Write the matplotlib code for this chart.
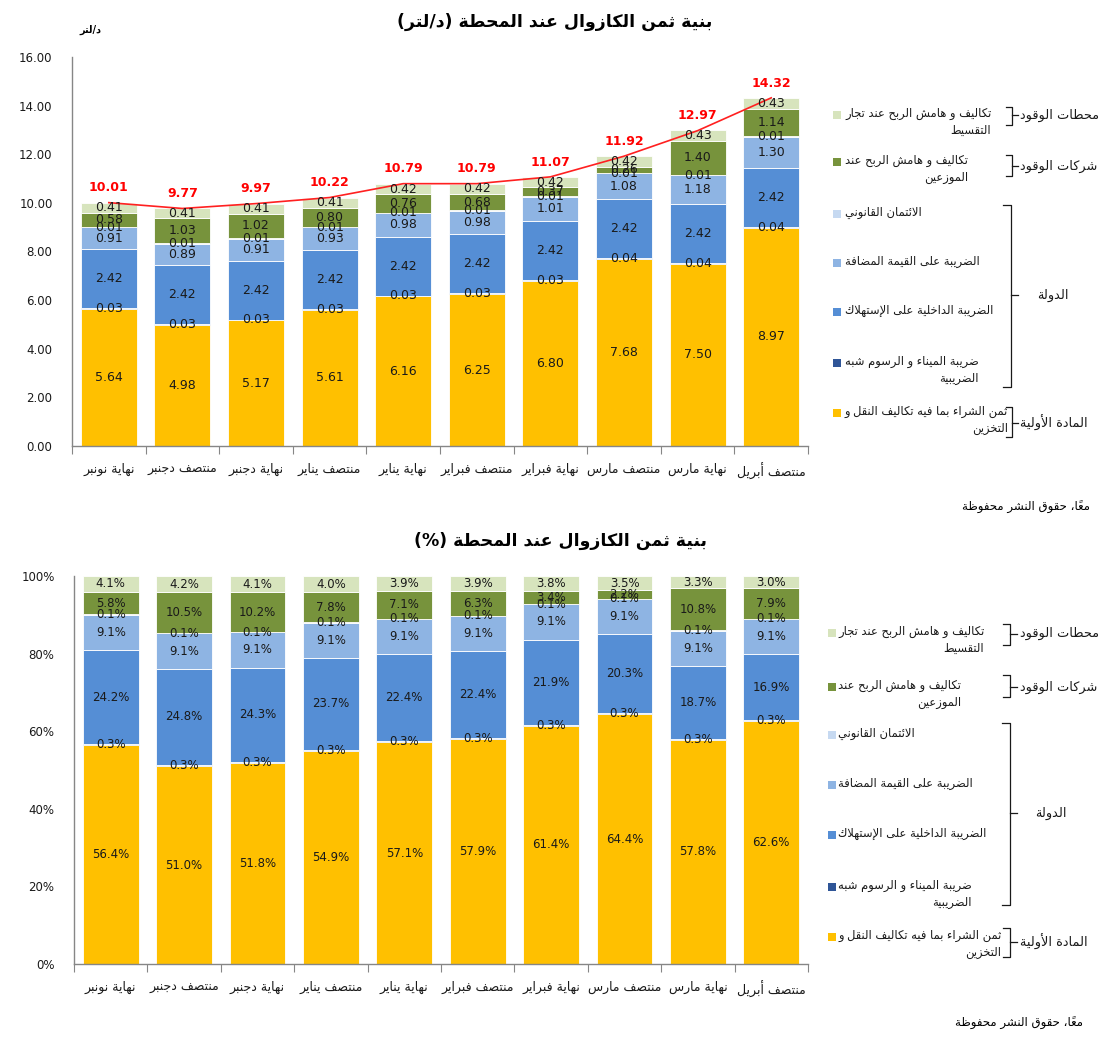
import matplotlib
matplotlib.use('Agg')
import matplotlib.pyplot as plt
from matplotlib.lines import Line2D
from matplotlib.patches import Rectangle
import numpy as np

# ---------------- data ----------------
categories = ['نهاية نونبر', 'منتصف دجنبر', 'نهاية دجنبر', 'منتصف يناير', 'نهاية يناير',
              'منتصف فبراير', 'نهاية فبراير', 'منتصف مارس', 'نهاية مارس', 'منتصف أبريل']

raw_material = [5.64, 4.98, 5.17, 5.61, 6.16, 6.25, 6.80, 7.68, 7.50, 8.97]
port_tax = [0.03, 0.03, 0.03, 0.03, 0.03, 0.03, 0.03, 0.04, 0.04, 0.04]
consumption_tax = [2.42, 2.42, 2.42, 2.42, 2.42, 2.42, 2.42, 2.42, 2.42, 2.42]
vat = [0.91, 0.89, 0.91, 0.93, 0.98, 0.98, 1.01, 1.08, 1.18, 1.30]
legal_credit = [0.01, 0.01, 0.01, 0.01, 0.01, 0.01, 0.01, 0.01, 0.01, 0.01]
distributors = [0.58, 1.03, 1.02, 0.80, 0.76, 0.68, 0.37, 0.26, 1.40, 1.14]
retailers = [0.41, 0.41, 0.41, 0.41, 0.42, 0.42, 0.42, 0.42, 0.43, 0.43]
totals = [10.01, 9.77, 9.97, 10.22, 10.79, 10.79, 11.07, 11.92, 12.97, 14.32]

pct_raw_material = [56.4, 51.0, 51.8, 54.9, 57.1, 57.9, 61.4, 64.4, 57.8, 62.6]
pct_port_tax = [0.3, 0.3, 0.3, 0.3, 0.3, 0.3, 0.3, 0.3, 0.3, 0.3]
pct_consumption_tax = [24.2, 24.8, 24.3, 23.7, 22.4, 22.4, 21.9, 20.3, 18.7, 16.9]
pct_vat = [9.1, 9.1, 9.1, 9.1, 9.1, 9.1, 9.1, 9.1, 9.1, 9.1]
pct_legal_credit = [0.1, 0.1, 0.1, 0.1, 0.1, 0.1, 0.1, 0.1, 0.1, 0.1]
pct_distributors = [5.8, 10.5, 10.2, 7.8, 7.1, 6.3, 3.4, 2.2, 10.8, 7.9]
pct_retailers = [4.1, 4.2, 4.1, 4.0, 3.9, 3.9, 3.8, 3.5, 3.3, 3.0]

top_yticks = [0, 2, 4, 6, 8, 10, 12, 14, 16]
bottom_yticks = [0, 20, 40, 60, 80, 100]

series_labels = ['ثمن الشراء بما فيه تكاليف النقل و\nالتخزين',
                 'ضريبة الميناء و الرسوم شبه\nالضريبية',
                 'الضريبة الداخلية على الإستهلاك',
                 'الضريبة على القيمة المضافة',
                 'الائتمان القانوني',
                 'تكاليف و هامش الربح عند\nالموزعين',
                 'تكاليف و هامش الربح عند تجار\nالتقسيط']
group_labels = ['المادة الأولية', 'الدولة', 'شركات الوقود', 'محطات الوقود']
title_top = 'بنية ثمن الكازوال عند المحطة (د/لتر)'
title_bottom = 'بنية ثمن الكازوال عند المحطة (%)'
unit_label = 'د/لتر'
footnote = 'معاً، حقوق النشر محفوظة'

colors = ['#FFC000', '#2F5597', '#558ED5', '#8EB4E3', '#C6D9F1', '#77933C', '#D7E4BD']

# ---------------- minimal Arabic shaping (presentation forms + visual order) ----------------
BASE = {'ء': 0xFE80, 'آ': 0xFE81, 'أ': 0xFE83, 'ؤ': 0xFE85, 'إ': 0xFE87, 'ئ': 0xFE89,
        'ا': 0xFE8D, 'ب': 0xFE8F, 'ة': 0xFE93, 'ت': 0xFE95, 'ث': 0xFE99, 'ج': 0xFE9D,
        'ح': 0xFEA1, 'خ': 0xFEA5, 'د': 0xFEA9, 'ذ': 0xFEAB, 'ر': 0xFEAD, 'ز': 0xFEAF,
        'س': 0xFEB1, 'ش': 0xFEB5, 'ص': 0xFEB9, 'ض': 0xFEBD, 'ط': 0xFEC1, 'ظ': 0xFEC5,
        'ع': 0xFEC9, 'غ': 0xFECD, 'ف': 0xFED1, 'ق': 0xFED5, 'ك': 0xFED9, 'ل': 0xFEDD,
        'م': 0xFEE1, 'ن': 0xFEE5, 'ه': 0xFEE9, 'و': 0xFEED, 'ى': 0xFEEF, 'ي': 0xFEF1}
DUAL = set('ئبتثجحخسشصضطظعغفقكلمنهي')
RIGHT = set('آأؤإادذرزوةى')
LAMALEF = {'آ': 0xFEF5, 'أ': 0xFEF7, 'إ': 0xFEF9, 'ا': 0xFEFB}
MIRROR = {'(': ')', ')': '('}


def _shape_line(s):
    clusters = []
    for ch in s:
        if 0x064B <= ord(ch) <= 0x065F or ch == '\u0670':
            if clusters:
                clusters[-1][1] += ch
            continue
        clusters.append([ch, ''])
    out = []
    i = 0
    while i < len(clusters):
        c, m = clusters[i]
        if c == 'ل' and i + 1 < len(clusters) and clusters[i + 1][0] in LAMALEF:
            out.append(['LA' + clusters[i + 1][0], m + clusters[i + 1][1]])
            i += 2
        else:
            out.append([c, m])
            i += 1

    def jn(c):
        return c in DUAL

    def jp(c):
        return c in DUAL or c in RIGHT or c.startswith('LA')

    res = []
    for i, (c, m) in enumerate(out):
        prev = out[i - 1][0] if i > 0 else None
        nxt = out[i + 1][0] if i + 1 < len(out) else None
        cp = prev is not None and jn(prev) and jp(c)
        cn = nxt is not None and jn(c) and jp(nxt)
        if c.startswith('LA'):
            g = chr(LAMALEF[c[2]] + (1 if cp else 0))
        elif c in DUAL:
            g = chr(BASE[c] + (3 if (cp and cn) else 1 if cp else 2 if cn else 0))
        elif c in RIGHT:
            g = chr(BASE[c] + (1 if cp else 0))
        elif c in BASE:
            g = chr(BASE[c])
        else:
            g = c
        res.append(g + m)
    return ''.join(MIRROR.get(x, x) for x in reversed(res))


def ar(s):
    return '\n'.join(_shape_line(l) for l in s.split('\n'))


plt.rcParams['font.family'] = ['DejaVu Sans']

W, H = 1107, 1040
fig = plt.figure(figsize=(W / 100, H / 100), dpi=100)


def fx(x):
    return x / W


def fy(y):
    return 1 - y / H


def draw_chart(ax, stacks, fmt, label_size):
    x = np.arange(len(categories))
    bottom = np.zeros(len(categories))
    for vals, col in zip(stacks, colors):
        v = np.array(vals, dtype=float)
        ax.bar(x, v, bottom=bottom, width=0.76, color=col, edgecolor='white', linewidth=0.6, zorder=2)
        for xi, b, vi in zip(x, bottom, v):
            ax.text(xi, b + vi / 2, fmt(vi), ha='center', va='center', fontsize=label_size,
                    color='#1a1a1a', zorder=5)
        bottom = bottom + v
    ax.set_xlim(-0.5, len(categories) - 0.5)
    for s in ['top', 'right']:
        ax.spines[s].set_visible(False)
    for s in ['left', 'bottom']:
        ax.spines[s].set_color('#868686')
        ax.spines[s].set_linewidth(1.0)
    ax.set_xticks(np.arange(len(categories) + 1) - 0.5)
    ax.set_xticklabels([])
    ax.set_xticks(x, minor=True)
    ax.set_xticklabels([ar(c) for c in categories], minor=True, fontsize=9, color='#1a1a1a')
    ax.tick_params(axis='x', which='major', length=6, color='#868686', direction='out')
    ax.tick_params(axis='x', which='minor', length=0, pad=12)
    ax.tick_params(axis='y', length=0, pad=14, labelsize=8.5, labelcolor='#1a1a1a')
    return x


def draw_legend(sq_x, sq_ys, text_x, brackets, group_pos):
    # entries (top to bottom: retailers ... raw material)
    order = [6, 5, 4, 3, 2, 1, 0]
    for k, idx in enumerate(order):
        y = sq_ys[k]
        fig.patches.append(Rectangle((fx(sq_x - 4), fy(y + 4)), 8 / W, 8 / H, transform=fig.transFigure,
                                     facecolor=colors[idx], edgecolor='none'))
        fig.text(fx(text_x), fy(y - 8), ar(series_labels[idx]), ha='left', va='top',
                 multialignment='right', fontsize=8.3, color='#1a1a1a', linespacing=1.4)
    for (x0, x1, x2, yt, yb, ym) in brackets:
        xs = [fx(x0), fx(x1), fx(x1), fx(x0)]
        ys = [fy(yt), fy(yt), fy(yb), fy(yb)]
        fig.lines.append(Line2D(xs, ys, transform=fig.transFigure, color='#1a1a1a', lw=0.9))
        fig.lines.append(Line2D([fx(x1), fx(x2)], [fy(ym), fy(ym)], transform=fig.transFigure,
                                color='#1a1a1a', lw=0.9))
    for (lab, gx, gy) in group_pos:
        fig.text(fx(gx), fy(gy), ar(lab), ha='left', va='center', fontsize=9.3, color='#1a1a1a')


# ---------------- top chart ----------------
ax1 = fig.add_axes([fx(72), fy(446), fx(808) - fx(72), fy(57) - fy(446)])
stacks1 = [raw_material, port_tax, consumption_tax, vat, legal_credit, distributors, retailers]
x = draw_chart(ax1, stacks1, lambda v: f'{v:.2f}', 9)
ax1.set_ylim(0, 16)
ax1.set_yticks(top_yticks)
ax1.set_yticklabels([f'{t:.2f}' for t in top_yticks])
ax1.plot(x, totals, color='#FF2020', lw=1.2, zorder=4)
for xi, t in zip(x, totals):
    ax1.annotate(f'{t:.2f}', (xi, t), xytext=(0, 6), textcoords='offset points', ha='center',
                 va='bottom', fontsize=9, fontweight='bold', color='#FF0000', zorder=6)

fig.text(fx(555), fy(22), ar(title_top), ha='center', va='center', fontsize=12.5, fontweight='bold')
fig.text(fx(90), fy(30), ar(unit_label), ha='center', va='center', fontsize=7, fontweight='bold')
fig.text(fx(1090), fy(507), ar(footnote), ha='right', va='center', fontsize=8.5)

draw_legend(837, [115, 162, 214, 263, 312, 363, 413], 845,
            [(1006, 1012, 1018, 107, 125, 115),
             (1006, 1012, 1018, 155, 176, 166),
             (1003, 1011, 1018, 205, 387, 295),
             (1006, 1012, 1018, 407, 437, 423)],
            [(group_labels[3], 1020, 115), (group_labels[2], 1020, 166),
             (group_labels[1], 1037, 295), (group_labels[0], 1020, 423)])

# ---------------- bottom chart ----------------
ax2 = fig.add_axes([fx(74), fy(964), fx(808) - fx(74), fy(576) - fy(964)])
stacks2 = [pct_raw_material, pct_port_tax, pct_consumption_tax, pct_vat, pct_legal_credit,
           pct_distributors, pct_retailers]
draw_chart(ax2, stacks2, lambda v: f'{v:.1f}%', 8.5)
ax2.set_ylim(0, 100)
ax2.set_yticks(bottom_yticks)
ax2.set_yticklabels([f'{t}%' for t in bottom_yticks])

fig.text(fx(560), fy(541), ar(title_bottom), ha='center', va='center', fontsize=12.5, fontweight='bold')
fig.text(fx(1083), fy(1023), ar(footnote), ha='right', va='center', fontsize=8.5)

draw_legend(832, [633, 687, 735, 785, 835, 887, 937], 838,
            [(1003, 1010, 1017, 624, 645, 634),
             (1003, 1010, 1017, 675, 697, 687),
             (1002, 1010, 1017, 723, 905, 813),
             (1003, 1010, 1017, 928, 957, 942)],
            [(group_labels[3], 1020, 633), (group_labels[2], 1020, 687),
             (group_labels[1], 1035, 813), (group_labels[0], 1020, 942)])

fig.savefig('out.png', dpi=100)
